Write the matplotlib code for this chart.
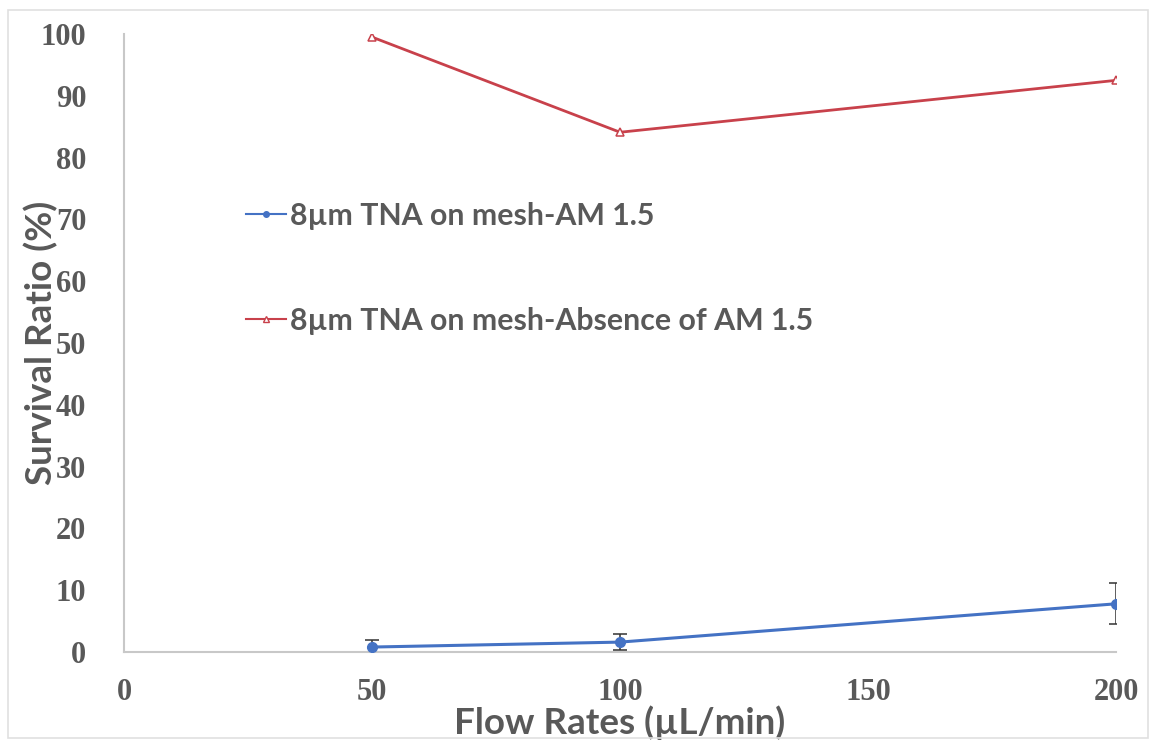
# Survival ratio vs flow rate for 8 µm TNA on mesh, with and without AM 1.5

import matplotlib
matplotlib.use('Agg')
import matplotlib.pyplot as plt
from matplotlib.lines import Line2D
from matplotlib.patches import Rectangle

flow_rates = [50, 100, 200]
survival_am15 = [0.8, 1.6, 7.8]
survival_am15_err = [1.1, 1.3, 3.3]
survival_dark = [99.5, 84.1, 92.5]

label_am15 = '8µm TNA on mesh-AM 1.5'
label_dark = '8µm TNA on mesh-Absence of AM 1.5'

x_ticks = [0, 50, 100, 150, 200]
y_ticks = list(range(0, 101, 10))

text_gray = '#595959'
blue = '#4472C4'
red = '#C8414B'

fig = plt.figure(figsize=(11.51, 7.42), dpi=100)
ax = fig.add_axes([0.1077, 0.1213, 0.862, 0.8329])

# AM 1.5 series with error bars
ax.errorbar(flow_rates, survival_am15, yerr=survival_am15_err, color=blue, lw=2.2,
            marker='o', ms=7, mfc=blue, mec=blue, ecolor='#333333', elinewidth=1.1,
            capsize=5, capthick=1.1, zorder=3)
# dark series
ax.plot(flow_rates, survival_dark, color=red, lw=2.0, marker='^', ms=6,
        mfc='white', mec=red, mew=1.1, zorder=3)

ax.set_xlim(0, 200)
ax.set_ylim(0, 100)
ax.set_xticks(x_ticks)
ax.set_yticks(y_ticks)
ax.tick_params(length=0, colors=text_gray)
ax.tick_params(axis='x', pad=19)
ax.tick_params(axis='y', pad=27)
for lab in ax.get_xticklabels() + ax.get_yticklabels():
    lab.set_fontfamily('Liberation Serif')
    lab.set_fontweight('bold')
    lab.set_fontsize(22)
    lab.set_color(text_gray)

for side in ['top', 'right']:
    ax.spines[side].set_visible(False)
for side in ['left', 'bottom']:
    ax.spines[side].set_color('#C8C8C8')
    ax.spines[side].set_linewidth(1.5)

ax.set_xlabel('Flow Rates (µL/min)', fontfamily='Lato', fontweight='bold',
              fontsize=26.5, color=text_gray)
ax.set_ylabel('Survival Ratio (%)', fontfamily='Lato', fontweight='bold',
              fontsize=26.5, color=text_gray)
ax.xaxis.set_label_coords(0.5, -0.087)
ax.yaxis.set_label_coords(-0.066, 0.5)

# legend handles with small markers
handles = [
    Line2D([], [], color=blue, lw=1.5, marker='o', ms=4, mfc=blue, mec=blue),
    Line2D([], [], color=red, lw=1.5, marker='^', ms=5, mfc='white', mec=red),
]
leg = ax.legend(handles, [label_am15, label_dark], loc='upper left',
                bbox_to_anchor=(0.111, 0.748), frameon=False,
                prop={'family': 'Lato', 'weight': 'bold', 'size': 21.8},
                labelspacing=2.55, handlelength=1.3, handletextpad=0.15,
                borderaxespad=0)
for t in leg.get_texts():
    t.set_color(text_gray)

# thin frame round the figure
fig.patches.append(Rectangle((0.007, 0.005), 0.99, 0.982, transform=fig.transFigure,
                             fill=False, edgecolor='#E0E0E0', lw=1.2))

fig.savefig('out.png', dpi=100)
